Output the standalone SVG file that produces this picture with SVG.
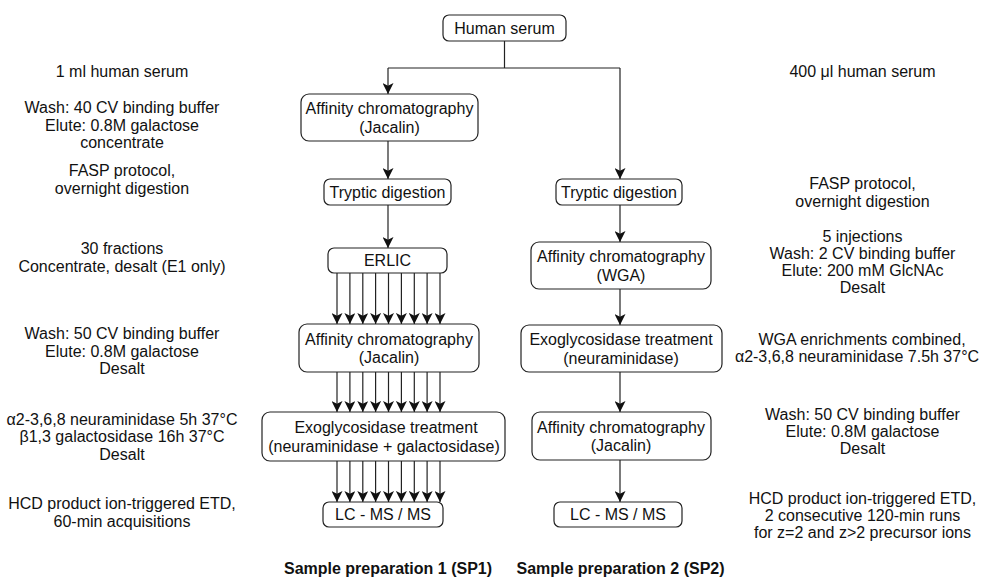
<svg xmlns="http://www.w3.org/2000/svg" width="983" height="578" viewBox="0 0 983 578">
<defs>
<style>
.box{fill:#fff;stroke:#222;stroke-width:1.2}
.t{font-family:"Liberation Sans",Arial,sans-serif;font-size:16px;fill:#111;text-anchor:middle}
.b{font-weight:bold}
.c{stroke:#222;stroke-width:1.2;fill:none}
.a{stroke:#222;stroke-width:1.2;fill:none;marker-end:url(#ah)}
</style>
<marker id="ah" markerUnits="userSpaceOnUse" markerWidth="11" markerHeight="11" viewBox="0 0 10 10" refX="10" refY="5" orient="auto">
<path d="M0,0 L10,5 L0,10 L2.5,5 z" fill="#111"/>
</marker>
</defs>
<rect width="983" height="578" fill="#fff"/>

<g id="connectors">
<path class="c" d="M504.5,41 V68 M388,68 H620"/>
<path class="a" d="M388,68 V94"/>
<path class="a" d="M620,68 V179"/>
<path class="a" d="M388,141 V179"/>
<path class="a" d="M388,205 V248"/>
<path class="a" d="M620,205 V242"/>
<path class="a" d="M620,289 V325"/>
<path class="a" d="M620,372 V412"/>
<path class="a" d="M620,460 V502"/>
<g id="fan1">
<path class="a" d="M337,273 V324"/><path class="a" d="M349.9,273 V324"/><path class="a" d="M362.8,273 V324"/><path class="a" d="M375.6,273 V324"/><path class="a" d="M388.5,273 V324"/><path class="a" d="M401.4,273 V324"/><path class="a" d="M414.3,273 V324"/><path class="a" d="M427.1,273 V324"/><path class="a" d="M440,273 V324"/>
</g>
<g id="fan2">
<path class="a" d="M337,372 V412"/><path class="a" d="M349.9,372 V412"/><path class="a" d="M362.8,372 V412"/><path class="a" d="M375.6,372 V412"/><path class="a" d="M388.5,372 V412"/><path class="a" d="M401.4,372 V412"/><path class="a" d="M414.3,372 V412"/><path class="a" d="M427.1,372 V412"/><path class="a" d="M440,372 V412"/>
</g>
<g id="fan3">
<path class="a" d="M337,461 V502"/><path class="a" d="M349.9,461 V502"/><path class="a" d="M362.8,461 V502"/><path class="a" d="M375.6,461 V502"/><path class="a" d="M388.5,461 V502"/><path class="a" d="M401.4,461 V502"/><path class="a" d="M414.3,461 V502"/><path class="a" d="M427.1,461 V502"/><path class="a" d="M440,461 V502"/>
</g>
</g>

<g id="human-serum"><rect class="box" x="443" y="15" width="123" height="26" rx="6"/><text class="t" x="504.5" y="33.5">Human serum</text></g>

<g id="sp1-affinity-jacalin"><rect class="box" x="301" y="94" width="177" height="47" rx="8"/><text class="t" x="389.5" y="114">Affinity chromatography</text><text class="t" x="389.5" y="132.5">(Jacalin)</text></g>
<g id="sp1-tryptic"><rect class="box" x="324" y="179" width="127" height="26" rx="6"/><text class="t" x="387.5" y="197.5">Tryptic digestion</text></g>
<g id="sp1-erlic"><rect class="box" x="328" y="248" width="119" height="25" rx="6"/><text class="t" x="387.5" y="266">ERLIC</text></g>
<g id="sp1-affinity-jacalin-2"><rect class="box" x="299" y="324" width="180" height="48" rx="8"/><text class="t" x="389" y="344.5">Affinity chromatography</text><text class="t" x="389" y="363">(Jacalin)</text></g>
<g id="sp1-exoglycosidase"><rect class="box" x="262" y="412" width="243" height="49" rx="8"/><text class="t" x="386" y="433">Exoglycosidase treatment</text><text class="t" x="384" y="451.5">(neuraminidase + galactosidase)</text></g>
<g id="sp1-lcms"><rect class="box" x="323" y="502" width="120" height="25" rx="6"/><text class="t" x="383" y="520">LC - MS / MS</text></g>

<g id="sp2-tryptic"><rect class="box" x="556" y="179" width="126" height="26" rx="6"/><text class="t" x="619" y="197.5">Tryptic digestion</text></g>
<g id="sp2-affinity-wga"><rect class="box" x="531" y="242" width="180" height="47" rx="8"/><text class="t" x="621" y="262">Affinity chromatography</text><text class="t" x="621" y="280.5">(WGA)</text></g>
<g id="sp2-exoglycosidase"><rect class="box" x="521" y="325" width="201" height="47" rx="8"/><text class="t" x="621" y="345">Exoglycosidase treatment</text><text class="t" x="621" y="363.5">(neuraminidase)</text></g>
<g id="sp2-affinity-jacalin"><rect class="box" x="532" y="412" width="179" height="48" rx="8"/><text class="t" x="621" y="432.5">Affinity chromatography</text><text class="t" x="621" y="451">(Jacalin)</text></g>
<g id="sp2-lcms"><rect class="box" x="554" y="502" width="128" height="25" rx="6"/><text class="t" x="618" y="520">LC - MS / MS</text></g>

<g id="left-notes">
<text class="t" x="122" y="77">1 ml human serum</text>
<text class="t" x="122" y="113">Wash: 40 CV binding buffer</text>
<text class="t" x="122" y="130.5">Elute: 0.8M galactose</text>
<text class="t" x="122" y="148">concentrate</text>
<text class="t" x="122" y="176">FASP protocol,</text>
<text class="t" x="122" y="193.5">overnight digestion</text>
<text class="t" x="122" y="254">30 fractions</text>
<text class="t" x="122" y="271.5">Concentrate, desalt (E1 only)</text>
<text class="t" x="122" y="339">Wash: 50 CV binding buffer</text>
<text class="t" x="122" y="356.5">Elute: 0.8M galactose</text>
<text class="t" x="122" y="374">Desalt</text>
<text class="t" x="122" y="424.5">α2-3,6,8 neuraminidase 5h 37°C</text>
<text class="t" x="122" y="442">β1,3 galactosidase 16h 37°C</text>
<text class="t" x="122" y="459.5">Desalt</text>
<text class="t" x="122" y="509">HCD product ion-triggered ETD,</text>
<text class="t" x="122" y="526.5">60-min acquisitions</text>
</g>

<g id="right-notes">
<text class="t" x="862.5" y="77">400 μl human serum</text>
<text class="t" x="862.5" y="189">FASP protocol,</text>
<text class="t" x="862.5" y="206.5">overnight digestion</text>
<text class="t" x="862.5" y="242">5 injections</text>
<text class="t" x="862.5" y="259">Wash: 2 CV binding buffer</text>
<text class="t" x="862.5" y="276">Elute: 200 mM GlcNAc</text>
<text class="t" x="862.5" y="293">Desalt</text>
<text class="t" x="862" y="344.5">WGA enrichments combined,</text>
<text class="t" x="857" y="361.5">α2-3,6,8 neuraminidase 7.5h 37°C</text>
<text class="t" x="862.5" y="419.5">Wash: 50 CV binding buffer</text>
<text class="t" x="862.5" y="437">Elute: 0.8M galactose</text>
<text class="t" x="862.5" y="454">Desalt</text>
<text class="t" x="862.5" y="504">HCD product ion-triggered ETD,</text>
<text class="t" x="862.5" y="521">2 consecutive 120-min runs</text>
<text class="t" x="862.5" y="538">for z=2 and z&gt;2 precursor ions</text>
</g>

<g id="titles">
<text class="t b" x="388" y="573.5">Sample preparation 1 (SP1)</text>
<text class="t b" x="620.5" y="573.5">Sample preparation 2 (SP2)</text>
</g>
</svg>
